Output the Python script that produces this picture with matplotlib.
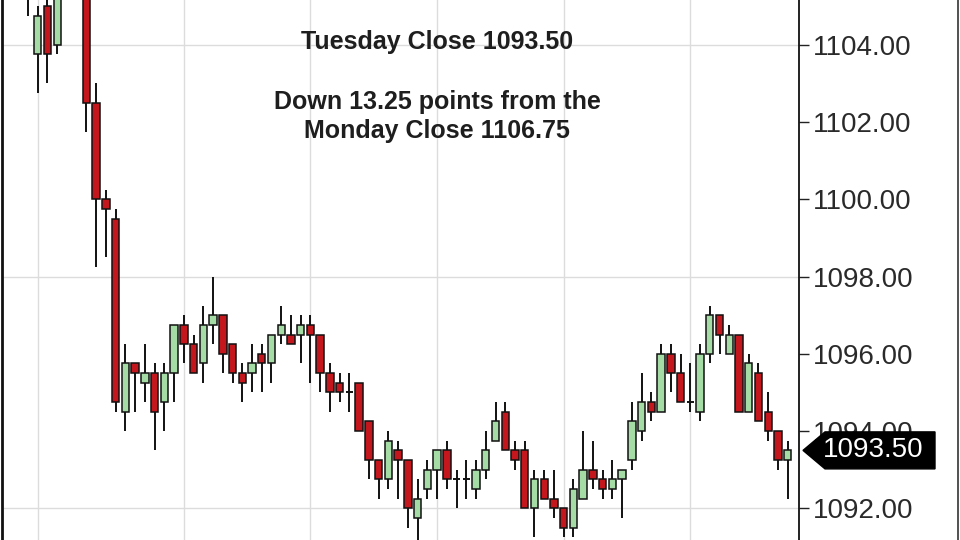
import matplotlib
matplotlib.use("Agg")
import matplotlib.pyplot as plt
from matplotlib.patches import Rectangle, Polygon
from matplotlib.lines import Line2D

plt.rcParams['font.family'] = ['Liberation Sans', 'DejaVu Sans']

# OHLC data (candle index order)
opens = [1105.5, 1103.75, 1105.0, 1104.0, 1105.5, 1106.25, 1105.75, 1102.5, 1100.0, 1099.5,
         1094.5, 1095.75, 1095.25, 1095.5, 1094.75, 1095.5, 1096.75, 1096.25, 1095.75, 1096.75,
         1097.0, 1096.25, 1095.5, 1095.5, 1096.0, 1095.75, 1096.5, 1096.5, 1096.5, 1096.75,
         1096.5, 1095.5, 1095.25, 1095.0, 1095.25, 1094.25, 1093.25, 1092.75, 1093.5, 1093.25,
         1091.75, 1092.5, 1093.0, 1093.5, 1092.75, 1092.75, 1092.5, 1093.0, 1093.75, 1094.5,
         1093.5, 1093.5, 1092.0, 1092.75, 1092.25, 1092.0, 1091.5, 1092.25, 1093.0, 1092.75,
         1092.5, 1092.75, 1093.25, 1094.0, 1094.75, 1094.5, 1096.0, 1095.5, 1094.75, 1094.5,
         1096.0, 1097.0, 1096.0, 1096.5, 1094.5, 1095.5, 1094.5, 1094.0, 1093.25]
highs = [1106.0, 1105.0, 1105.25, 1105.75, 1106.5, 1106.75, 1106.0, 1103.0, 1100.25, 1099.75,
         1096.25, 1095.75, 1096.25, 1095.75, 1095.75, 1096.75, 1097.0, 1096.5, 1097.25, 1098.0,
         1097.0, 1096.25, 1095.75, 1096.25, 1096.25, 1096.5, 1097.25, 1097.0, 1097.0, 1097.0,
         1096.5, 1095.75, 1095.5, 1095.5, 1095.25, 1094.25, 1093.25, 1094.0, 1093.75, 1093.25,
         1092.75, 1093.25, 1093.5, 1093.75, 1093.0, 1093.25, 1093.25, 1094.0, 1094.75, 1094.75,
         1093.75, 1093.75, 1093.0, 1093.0, 1093.0, 1092.0, 1092.75, 1094.0, 1093.75, 1093.0,
         1093.25, 1093.0, 1094.75, 1095.5, 1095.0, 1096.25, 1096.25, 1096.0, 1095.75, 1096.25,
         1097.25, 1097.0, 1096.75, 1096.5, 1096.0, 1095.75, 1095.0, 1094.0, 1093.75]
lows = [1104.75, 1102.75, 1103.0, 1103.75, 1105.25, 1105.5, 1101.75, 1098.25, 1098.5, 1094.5,
        1094.0, 1094.5, 1094.75, 1093.5, 1094.0, 1094.75, 1095.75, 1095.5, 1095.25, 1096.25,
        1095.5, 1095.25, 1094.75, 1095.0, 1095.0, 1095.25, 1096.25, 1096.25, 1095.75, 1095.25,
        1095.0, 1094.5, 1094.75, 1094.5, 1094.0, 1092.75, 1092.25, 1092.5, 1092.25, 1091.5,
        1091.0, 1092.25, 1092.25, 1092.5, 1092.0, 1092.25, 1092.25, 1092.75, 1093.75, 1093.5,
        1093.0, 1092.0, 1091.25, 1092.25, 1091.75, 1091.25, 1091.25, 1092.25, 1092.5, 1092.25,
        1092.25, 1091.75, 1093.0, 1093.75, 1094.25, 1094.5, 1095.0, 1094.75, 1094.5, 1094.25,
        1095.75, 1096.0, 1096.0, 1094.5, 1094.5, 1094.25, 1093.75, 1093.0, 1092.25]
closes = [1105.75, 1104.75, 1103.75, 1105.5, 1106.25, 1105.75, 1102.5, 1100.0, 1099.75, 1094.75,
          1095.75, 1095.5, 1095.5, 1094.5, 1095.5, 1096.75, 1096.25, 1095.5, 1096.75, 1097.0,
          1096.0, 1095.5, 1095.25, 1095.75, 1095.75, 1096.5, 1096.75, 1096.25, 1096.75, 1096.5,
          1095.5, 1095.0, 1095.0, 1095.0, 1094.0, 1093.25, 1092.75, 1093.75, 1093.25, 1092.0,
          1092.25, 1093.0, 1093.5, 1092.75, 1092.75, 1092.75, 1093.0, 1093.5, 1094.25, 1093.5,
          1093.25, 1092.0, 1092.75, 1092.25, 1092.0, 1091.5, 1092.5, 1093.0, 1092.75, 1092.5,
          1092.75, 1093.0, 1094.25, 1094.75, 1094.5, 1096.0, 1095.5, 1094.75, 1094.75, 1096.0,
          1097.0, 1096.5, 1096.5, 1094.5, 1095.75, 1094.25, 1094.0, 1093.25, 1093.5]

y_ticks = [1092, 1094, 1096, 1098, 1100, 1102, 1104]
h_grid = [1092, 1098, 1104]
v_grid = [1, 16, 29, 42, 55, 68]

title_line = "Tuesday Close 1093.50"
note_lines = ["Down 13.25 points from the", "Monday Close 1106.75"]

GREEN = "#a5dba5"
RED = "#c3161d"

fig = plt.figure(figsize=(9.6, 5.4), dpi=100)
fig.patch.set_facecolor("white")
ax = fig.add_axes([2 / 960, 0, 797 / 960, 1])
ax.set_facecolor("white")

ax.set_xlim(-2.67, 79.16)
ax.set_ylim(1091.18, 1105.16)

for g in h_grid:
    ax.axhline(g, color="#dcdcdc", lw=1.0, zorder=0)
for g in v_grid:
    ax.axvline(g, color="#dcdcdc", lw=1.0, zorder=0)

w = 0.76
for i, (o, h, l, c) in enumerate(zip(opens, highs, lows, closes)):
    ax.vlines(i, l, h, color="#111111", lw=1.4, zorder=2)
    if o == c:
        ax.hlines(o, i - w / 2, i + w / 2, color="#111111", lw=1.4, zorder=3)
    else:
        col = GREEN if c > o else RED
        ax.add_patch(Rectangle((i - w / 2, min(o, c)), w, abs(c - o),
                               facecolor=col, edgecolor="#111111", lw=1.1, zorder=3))

ax.yaxis.tick_right()
ax.set_yticks(y_ticks)
ax.set_yticklabels([f"{v:.2f}" for v in y_ticks])
ax.tick_params(axis="y", direction="out", length=7, width=1.0, color="#222222",
               labelsize=20, labelcolor="#2a2a2a", pad=3)
ax.set_xticks([])
for s in ["top", "bottom"]:
    ax.spines[s].set_visible(False)
ax.spines["left"].set_color("#111111")
ax.spines["left"].set_linewidth(2.0)
ax.spines["right"].set_color("#111111")
ax.spines["right"].set_linewidth(1.3)

# right border
fig.add_artist(Line2D([957.5 / 960, 957.5 / 960], [0, 1], color="#333333", lw=1.2,
                      transform=fig.transFigure))

# annotations
fig.text(437 / 960, 1 - 42 / 540, title_line, ha="center", va="center",
         fontsize=18, fontweight="bold", color="#1e1e1e")
fig.text(437 / 960, 1 - 102 / 540, note_lines[0], ha="center", va="center",
         fontsize=18, fontweight="bold", color="#1e1e1e")
fig.text(437 / 960, 1 - 131 / 540, note_lines[1], ha="center", va="center",
         fontsize=18, fontweight="bold", color="#1e1e1e")

# last price marker
fig.canvas.draw()
last = closes[-1]
yd = ax.transData.transform((0, last))[1]
xr = ax.transAxes.transform((1, 0))[0]
hh = 18.5
poly = Polygon([(xr + 4, yd), (xr + 26, yd + hh), (xr + 136, yd + hh),
                (xr + 136, yd - hh), (xr + 26, yd - hh)], closed=True,
               facecolor="black", edgecolor="black", transform=None, zorder=10)
fig.add_artist(poly)
fig.text((xr + 74) / 960, yd / 540, f"{last:.2f}", ha="center", va="center",
         fontsize=20, color="white", zorder=11)

fig.savefig("out.png", dpi=100, facecolor="white")
